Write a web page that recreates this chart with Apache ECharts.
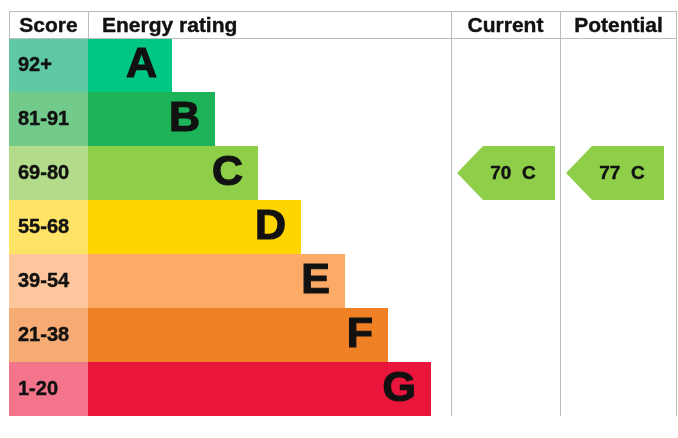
<!DOCTYPE html>
<html>
<head>
<meta charset="utf-8">
<script src="https://cdn.jsdelivr.net/npm/echarts@6/dist/echarts.min.js"></script>
<style>
  html, body { margin: 0; padding: 0; background: #fff; }
  #chart { width: 678px; height: 438px; }
</style>
</head>
<body>
<div id="chart"></div>
<script>
// rating bands, top to bottom
const bands = ['A', 'B', 'C', 'D', 'E', 'F', 'G'];
const scoreRanges = ['92+', '81-91', '69-80', '55-68', '39-54', '21-38', '1-20'];
// bar lengths (relative units)
const barLength = [84, 127, 170, 213, 257, 300, 343];
const bandColors = ['#00c781', '#1db459', '#8fce49', '#ffd500', '#fcaa65', '#ef8023', '#e9153b'];
const scoreColors = ['#5fc9a3', '#72cb8b', '#b2dc8a', '#ffe367', '#fec69c', '#f6ab74', '#f4748c'];
const headers = ['Score', 'Energy rating', 'Current', 'Potential'];
const currentRating = [70, 'C'];
const potentialRating = [77, 'C'];

const FONT = '"Liberation Sans", Arial, sans-serif';
const INK = '#111';
const LINE = '#bcbcbc';

const myChart = echarts.init(document.getElementById('chart'), null, { renderer: 'canvas' });

// table geometry
const bodyTop = 38, bodyH = 378;
const cols = [
  { left: 9, width: 79 },    // score
  { left: 88, width: 363 },  // energy rating bars
  { left: 451, width: 109 }, // current
  { left: 560, width: 117 }  // potential
];

const grids = cols.map(c => ({ left: c.left, top: bodyTop, width: c.width, height: bodyH, containLabel: false }));
const yAxes = cols.map((c, i) => ({
  type: 'category', gridIndex: i, data: bands, inverse: true, show: false
}));
const xAxes = cols.map((c, i) => ({
  type: 'value', gridIndex: i, min: 0, max: i === 1 ? 363 : 1, show: false
}));

// arrow pointing left, filling the band of the rating
function arrowRender(params, api) {
  const band = api.value(1);
  const score = api.value(2);
  const c = api.coord([0, band]);
  const h = api.size([0, 1])[1];
  const x0 = c[0] + 6;
  const y0 = c[1] - h / 2;
  const head = 26, w = 98;
  return {
    type: 'group',
    children: [
      {
        type: 'polygon',
        shape: { points: [[x0, c[1]], [x0 + head, y0], [x0 + w, y0], [x0 + w, y0 + h], [x0 + head, y0 + h]] },
        style: { fill: bandColors[band] }
      },
      {
        type: 'text',
        style: {
          text: score + '  ' + bands[band],
          x: x0 + 56, y: c[1] + 1,
          fill: INK, font: 'bold 19px ' + FONT,
          stroke: INK, lineWidth: 0.4,
          align: 'center', verticalAlign: 'middle'
        }
      }
    ]
  };
}

function lineEl(x1, y1, x2, y2) {
  return { type: 'line', shape: { x1, y1, x2, y2 }, style: { stroke: LINE, lineWidth: 1 }, z: 10 };
}
function headerEl(text, x, align) {
  return {
    type: 'text', z: 10,
    style: {
      text, x, y: 26, fill: INK, font: 'bold 21px ' + FONT,
      stroke: INK, lineWidth: 0.4, align, verticalAlign: 'middle'
    }
  };
}

myChart.setOption({
  animation: false,
  backgroundColor: '#fff',
  grid: grids,
  xAxis: xAxes,
  yAxis: yAxes,
  series: [
    {
      type: 'bar', xAxisIndex: 0, yAxisIndex: 0,
      barCategoryGap: '0%',
      data: scoreRanges.map((s, i) => ({ value: 1, name: s, itemStyle: { color: scoreColors[i] } })),
      label: {
        show: true, position: 'insideLeft', distance: 9,
        formatter: p => p.name,
        color: INK, fontFamily: FONT, fontWeight: 'bold', fontSize: 20,
        textBorderColor: INK, textBorderWidth: 0.4
      }
    },
    {
      type: 'bar', xAxisIndex: 1, yAxisIndex: 1,
      barCategoryGap: '0%',
      data: barLength.map((v, i) => ({ value: v, itemStyle: { color: bandColors[i] } })),
      label: {
        show: true, position: 'insideRight', distance: 15,
        formatter: p => bands[p.dataIndex],
        color: INK, fontFamily: FONT, fontWeight: 'bold', fontSize: 43,
        textBorderColor: INK, textBorderWidth: 1.2
      }
    },
    {
      type: 'custom', xAxisIndex: 2, yAxisIndex: 2,
      renderItem: arrowRender,
      data: [[0, bands.indexOf(currentRating[1]), currentRating[0]]]
    },
    {
      type: 'custom', xAxisIndex: 3, yAxisIndex: 3,
      renderItem: arrowRender,
      data: [[0, bands.indexOf(potentialRating[1]), potentialRating[0]]]
    }
  ],
  graphic: [
    lineEl(9, 11.5, 677, 11.5),
    lineEl(9, 38.5, 677, 38.5),
    lineEl(9.5, 11, 9.5, 38),
    lineEl(88.5, 11, 88.5, 38),
    lineEl(451.5, 11, 451.5, 416),
    lineEl(560.5, 11, 560.5, 416),
    lineEl(676.5, 11, 676.5, 416),
    headerEl(headers[0], 48.5, 'center'),
    headerEl(headers[1], 102, 'left'),
    headerEl(headers[2], 505.5, 'center'),
    headerEl(headers[3], 618.5, 'center')
  ]
});
</script>
</body>
</html>
